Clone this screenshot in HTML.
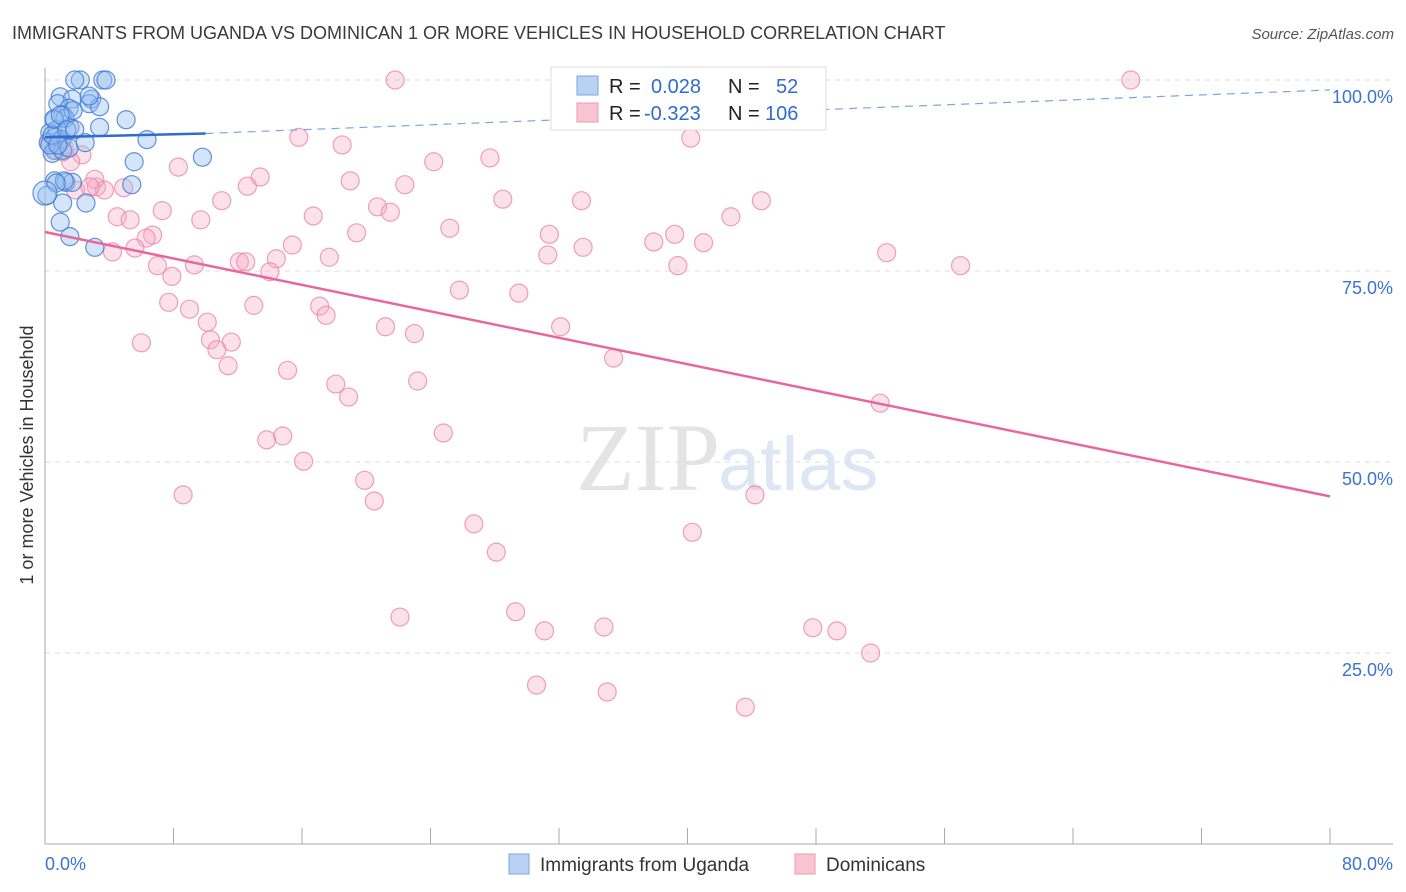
<!DOCTYPE html>
<html><head><meta charset="utf-8"><style>
body{margin:0;background:#fff;font-family:"Liberation Sans",sans-serif;}
svg{display:block}
</style></head><body>
<svg id="chart" width="1406" height="892">
<text x="12" y="39" font-size="18" fill="#3a3a3a">IMMIGRANTS FROM UGANDA VS DOMINICAN 1 OR MORE VEHICLES IN HOUSEHOLD CORRELATION CHART</text>
<text x="1394" y="39" font-size="15" fill="#555" font-style="italic" text-anchor="end">Source: ZipAtlas.com</text>
<text x="720" y="490" font-size="96" fill="#e4e4e4" text-anchor="end" font-family="Liberation Serif,serif">ZIP</text>
<text x="718" y="490" font-size="76" fill="#dde6f3">atlas</text>
<g id="grid"></g>
<g id="axes"></g>
<g id="pts"></g>
<g id="lines"></g>
<text transform="translate(33,455) rotate(-90)" font-size="18" fill="#333" text-anchor="middle">1 or more Vehicles in Household</text>
<g>
<rect x="551" y="67" width="275" height="63" fill="#fff" stroke="#ddd"/>
<rect x="577" y="76" width="21" height="19" fill="#b9d2f3" stroke="#7aa6e0"/>
<rect x="577" y="103" width="21" height="19" fill="#f8c3d3" stroke="#eb9ab3"/>
<text x="609" y="93" font-size="20" fill="#222">R =</text>
<text x="651" y="93" font-size="20" fill="#2f6bd0">0.028</text>
<text x="728" y="93" font-size="20" fill="#222">N =</text>
<text x="776" y="93" font-size="20" fill="#2f6bd0">52</text>
<text x="609" y="120" font-size="20" fill="#222">R =</text>
<text x="644" y="120" font-size="20" fill="#2f6bd0">-0.323</text>
<text x="728" y="120" font-size="20" fill="#222">N =</text>
<text x="765" y="120" font-size="20" fill="#2f6bd0">106</text>
</g>
<g>
<rect x="509" y="854" width="20" height="20" fill="#b9d2f3" stroke="#7aa6e0"/>
<text x="540" y="871" font-size="19" fill="#333">Immigrants from Uganda</text>
<rect x="795" y="854" width="20" height="20" fill="#f8c3d3" stroke="#eb9ab3"/>
<text x="826" y="871" font-size="19" fill="#333">Dominicans</text>
</g>
</svg>
<script>
const ugX=[2.2,1.85,3.6,3.8,0.95,1.7,2.9,2.75,0.8,1.5,1.1,0.6,3.4,1.55,3.4,5.05,0.3,0.75,0.6,1.05,0.2,0.6,0.45,1.1,1.5,2.5,6.35,5.55,9.8,0.6,1.3,1.7,5.4,0.12,1.1,2.55,0.95,1.55,3.1,0.3,0.45,0.8,1.25,1.75,2.75,1.2,0.7,0.55,0.0,0.95,1.35,1.85];
const ugY=[100,100,100,100,97.8,97.5,97.5,96.9,96.9,96.3,95.4,94.8,96.5,93.8,93.8,94.8,93.1,93.5,92.5,92.2,91.8,90.8,90.4,90.8,91.1,91.8,92.2,89.3,89.9,86.8,86.6,86.6,86.3,84.9,83.9,83.9,81.4,79.5,78.1,91.5,92.8,91.5,95.0,96.0,97.9,86.8,86.5,94.9,85.2,95.4,93.5,93.5];
const doX=[21.8,32.4,43.6,67.6,15.8,18.5,40.2,24.2,27.7,2.3,1.6,8.3,13.4,19.0,22.4,12.6,1.9,3.2,3.7,4.9,3.1,11.0,20.7,21.5,28.5,33.4,44.6,7.3,4.5,5.3,9.7,16.7,42.7,25.2,19.4,31.4,6.7,6.3,39.2,37.9,41.0,15.4,33.5,31.3,5.6,4.2,17.7,12.1,12.5,14.4,7.0,9.3,14.0,7.9,52.4,57.0,39.4,25.8,29.5,7.7,13.0,17.1,9.0,17.5,10.1,21.2,32.1,23.0,6.0,10.3,11.6,10.7,11.4,15.1,35.4,18.1,23.2,18.9,52.0,13.8,14.8,24.8,16.1,19.9,8.6,44.2,20.5,26.7,40.3,28.1,22.1,29.3,31.1,34.8,47.8,49.3,51.4,30.6,35.0,43.6,0.6,1.2,0.9,0.3,2.8,1.1];
const doY=[100,100,100,100,92.5,91.5,92.4,89.3,89.8,90.2,89.3,88.6,87.3,86.8,86.3,86.1,85.6,86.0,85.6,85.9,87.0,84.2,83.4,82.7,84.4,84.2,84.2,82.9,82.1,81.7,81.7,82.2,82.1,80.6,80.0,79.8,79.7,79.3,79.8,78.8,78.7,78.4,78.1,77.1,78.0,77.5,76.8,76.2,76.2,76.6,75.7,75.8,74.9,74.3,77.4,75.7,75.7,72.5,72.1,70.9,70.5,70.4,70.0,69.2,68.3,67.7,67.7,66.8,65.6,66.0,65.7,64.7,62.6,62.0,63.6,60.2,60.6,58.5,57.7,52.9,53.4,53.8,50.1,47.6,45.7,45.7,44.9,41.9,40.8,38.2,29.7,30.4,27.9,28.4,28.3,27.9,25.0,20.8,19.9,17.9,90.8,91.2,91.9,92.1,86.0,90.6];
const ugTrend=[0,92.5,10,93.0,80,98.7];
const doTrend=[0,80.1,80,45.5];
const yTicks=[25,50,75,100];
const xTickLabels=["0.0%","80.0%"];

const NS="http://www.w3.org/2000/svg";
const X=v=>45+v*1285/80, Y=v=>844-v*7.64;
function mk(t,a,p){const e=document.createElementNS(NS,t);for(const k in a)e.setAttribute(k,a[k]);p.appendChild(e);return e;}
const grid=document.getElementById('grid'),axes=document.getElementById('axes'),pts=document.getElementById('pts'),lines=document.getElementById('lines');
yTicks.forEach(v=>{
 const l=mk('line',{x1:45,x2:1393,y1:Y(v),y2:Y(v),stroke:'#ddd','stroke-dasharray':'5,5'},grid);
 
 
 const t=mk('text',{x:1393,y:Y(v)+23,'font-size':18,fill:'#3b72d3','text-anchor':'end'},axes);
 t.textContent=v.toFixed(1)+'%';
 
 
});
const ax=mk('line',{x1:45,x2:45,y1:68,y2:844,stroke:'#aaa'},axes);


const bx=mk('line',{x1:45,x2:1393,y1:844,y2:844,stroke:'#aaa'},axes);


for(let i=0;i<=10;i++){const tk=mk('line',{x1:X(i*8),x2:X(i*8),y1:828,y2:844,stroke:'#aaa'},axes);
 
 }
const t0=mk('text',{x:45,y:870,'font-size':18,fill:'#3b72d3'},axes);t0.textContent=xTickLabels[0];


const t1=mk('text',{x:1393,y:870,'font-size':18,fill:'#3b72d3','text-anchor':'end'},axes);t1.textContent=xTickLabels[1];


doX.forEach((x,i)=>{const c=mk('circle',{cx:X(x),cy:Y(doY[i]),r:9,fill:'rgba(245,170,195,0.35)',stroke:'rgba(232,130,165,0.75)','stroke-width':1.2},pts);
 
 });
ugX.forEach((x,i)=>{const c=mk('circle',{cx:X(x),cy:Y(ugY[i]),r:i==48?12:9,fill:'rgba(150,190,240,0.4)',stroke:'rgba(60,120,210,0.8)','stroke-width':1.2},pts);
 
 });
const u1=mk('line',{x1:X(ugTrend[0]),y1:Y(ugTrend[1]),x2:X(ugTrend[2]),y2:Y(ugTrend[3]),stroke:'#2f6bd0','stroke-width':2.5},lines);


const u2=mk('line',{x1:X(ugTrend[2]),y1:Y(ugTrend[3]),x2:X(ugTrend[4]),y2:Y(ugTrend[5]),stroke:'#7aa6e0','stroke-width':1.2,'stroke-dasharray':'8,6'},lines);


const d1=mk('line',{x1:X(doTrend[0]),y1:Y(doTrend[1]),x2:X(doTrend[2]),y2:Y(doTrend[3]),stroke:'#e8679a','stroke-width':2.5},lines);


</script>
</body></html>
